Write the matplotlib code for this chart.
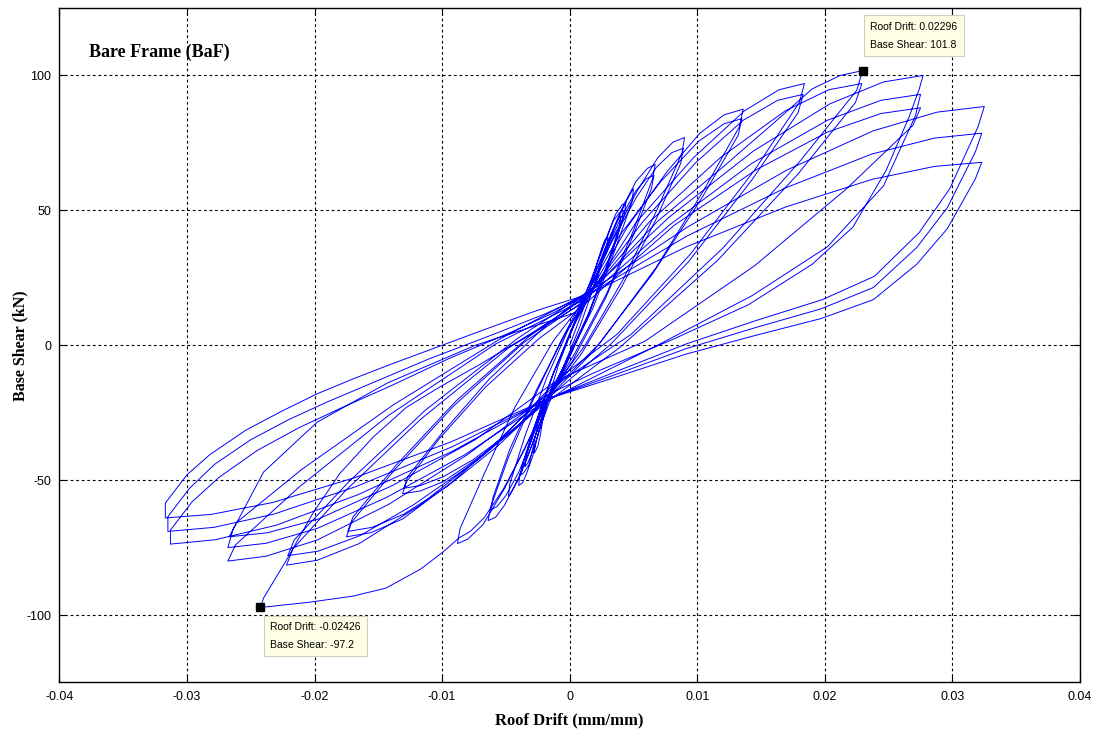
import numpy as np
import matplotlib
matplotlib.use("Agg")
import matplotlib.pyplot as plt

plt.rcParams['axes.unicode_minus'] = False

# Hysteresis trace, read off the picture cycle by cycle
# (roof drift in mm/mm, base shear in kN)
c01_drift = [0.0, 0.0015, 0.0019, 0.0023, 0.0026, 0.0028, 0.0030,
             0.0029, 0.0020, 0.0008, -0.0006, -0.0018,
             -0.0021, -0.0023, -0.0025, -0.0027, -0.0028,
             -0.0027, -0.0019, -0.0009, 0.0004, 0.0015]
c01_shear = [0, 19, 26.6, 32.9, 37.3, 39.4, 40,
             36.4, 23.2, 7, -9.2, -20,
             -27.2, -33.2, -37.4, -39.4, -40,
             -36.5, -23.5, -7.5, 8.4, 19]

c02_drift = [0.0022, 0.0030, 0.0036, 0.0041, 0.0044,
             0.0043, 0.0032, 0.0016, -0.0001, -0.0012,
             -0.0024, -0.0029, -0.0034, -0.0037, -0.0040,
             -0.0039, -0.0029, -0.0015, 0.0000, 0.0010]
c02_shear = [31.2, 41.4, 48.6, 52, 53,
             48.6, 32.6, 12.9, -5, -16,
             -31.5, -41.1, -47.8, -51, -52,
             -47.7, -32.1, -13, 4.5, 16]

c03_drift = [0.0020, 0.0029, 0.0034, 0.0039, 0.0042,
             0.0041, 0.0030, 0.0015, -0.0004, -0.0022,
             -0.0026, -0.0029, -0.0032, -0.0036, -0.0038,
             -0.0037, -0.0027, -0.0013, 0.0004, 0.0020]
c03_shear = [28.5, 39.5, 46, 49.1, 50,
             45.8, 30.4, 11.5, -8.5, -23,
             -31.5, -38.5, -44.4, -47.2, -48,
             -44, -29.2, -10.5, 8, 22]

c03b_drift = [0.0026, 0.0032, 0.0036, 0.0039, 0.0040,
              0.0039, 0.0029, 0.0014, -0.0003, -0.0016,
              -0.0021, -0.0026, -0.0030, -0.0033, -0.0035,
              -0.0034, -0.0025, -0.0012, 0.0002, 0.0012]
c03b_shear = [32, 39.5, 44.5, 47.3, 48,
              44, 29.5, 11, -6, -19,
              -27.5, -35, -40.5, -43.8, -45,
              -41, -27, -9.5, 6, 17]

c04_drift = [0.0028, 0.0041, 0.0052, 0.0061, 0.0067,
             0.0065, 0.0050, 0.0029, 0.0004, -0.0015,
             -0.0028, -0.0040, -0.0051, -0.0058, -0.0064,
             -0.0062, -0.0048, -0.0028, -0.0007, 0.0008]
c04_shear = [36.3, 50.7, 60.8, 65.6, 67,
             61.8, 42.6, 19.2, -3, -18,
             -35, -49, -59.2, -63.7, -65,
             -60, -41.5, -19.5, 1.5, 15]

c05_drift = [0.0026, 0.0041, 0.0052, 0.0060, 0.0066,
             0.0064, 0.0049, 0.0028, 0.0002, -0.0020,
             -0.0030, -0.0040, -0.0050, -0.0057, -0.0062,
             -0.0060, -0.0047, -0.0026, -0.0002, 0.0018]
c05_shear = [33, 48, 57.3, 61.7, 63,
             58, 39.8, 17.4, -6, -22,
             -35.5, -47.1, -55.7, -59.8, -61,
             -56.2, -38.6, -16.5, 5.5, 21]

c05b_drift = [0.0028, 0.0038, 0.0045, 0.0049, 0.0050,
              0.0049, 0.0036, 0.0018, -0.0002, -0.0017,
              -0.0025, -0.0033, -0.0040, -0.0046, -0.0048,
              -0.0047, -0.0035, -0.0018, -0.0001, 0.0013]
c05b_shear = [36, 47, 54, 57.3, 58,
              53.5, 36, 13.5, -5.5, -19,
              -31, -41.5, -49.5, -54.8, -56,
              -51.5, -33.5, -12, 6, 18]

c06_drift = [0.0034, 0.0053, 0.0069, 0.0081, 0.0090,
             0.0088, 0.0068, 0.0042, 0.0012, -0.0010,
             -0.0032, -0.0051, -0.0068, -0.0080, -0.0088,
             -0.0086, -0.0067, -0.0043, -0.0013, 0.0012]
c06_shear = [39.9, 57.3, 69.5, 75.3, 77,
             71.2, 49.8, 24.5, 0, -14,
             -35, -53, -66.5, -71.9, -73.5,
             -68, -47.6, -23, 1.5, 17]

# cycle with the big negative pulse down to -97.2 kN
c07_drift = [0.0032, 0.0052, 0.0068, 0.0080, 0.0089,
             0.0087, 0.0068, 0.0041, 0.0009, -0.0018,
             -0.0035, -0.0052, -0.0067, -0.0078, -0.0087,
             -0.0099, -0.0117, -0.0144, -0.0170, -0.0205, -0.02426,
             -0.0240, -0.0222, -0.0201, -0.0180, -0.0154, -0.0128, -0.0102,
             -0.0070, -0.0035, -0.0005, 0.0015]
c07_shear = [37.5, 54.6, 66, 71.4, 73,
             67.4, 47, 21.9, -3.3, -20,
             -38.2, -53.3, -63.9, -69, -71.5,
             -76.5, -83, -90, -93, -95.3, -97.2,
             -93.7, -79.6, -62, -47.4, -34, -23, -15.5,
             -7, 3, 12, 19]

c08_drift = [0.0045, 0.0076, 0.0102, 0.0121, 0.0136,
             0.0133, 0.0105, 0.0068, 0.0024, -0.0014,
             -0.0044, -0.0074, -0.0099, -0.0117, -0.0131,
             -0.0128, -0.0102, -0.0066, -0.0024, 0.0006]
c08_shear = [43.7, 64.2, 78.6, 85.4, 87.5,
             81, 57.4, 29, 1, -17,
             -31.5, -42.5, -50.5, -54, -55,
             -50.6, -34.5, -15.5, 2.5, 13]

c09_drift = [0.0038, 0.0071, 0.0101, 0.0121, 0.0135,
             0.0132, 0.0104, 0.0065, 0.0018, -0.0022,
             -0.0049, -0.0076, -0.0099, -0.0117, -0.0130,
             -0.0127, -0.0100, -0.0063, -0.0018, 0.0020]
c09_shear = [40, 60.5, 75.6, 82.1, 84,
             77.8, 54.9, 26.5, -2.5, -22,
             -33, -42.5, -48.7, -52, -53,
             -48.7, -32.5, -12.5, 7.5, 22]

c10_drift = [0.0052, 0.0097, 0.0137, 0.0164, 0.0184,
             0.0180, 0.0145, 0.0095, 0.0037, -0.0008,
             -0.0050, -0.0093, -0.0131, -0.0156, -0.0175,
             -0.0171, -0.0137, -0.0091, -0.0036, 0.0010]
c10_shear = [45.5, 69.5, 86.9, 94.7, 97,
             90, 65, 34, 4, -12,
             -33, -51, -64.4, -69.5, -71,
             -65.6, -46, -22.5, 1, 16]

c11_drift = [0.0057, 0.0099, 0.0136, 0.0163, 0.0183,
             0.0179, 0.0143, 0.0093, 0.0032, -0.0018,
             -0.0057, -0.0096, -0.0130, -0.0155, -0.0174,
             -0.0170, -0.0136, -0.0089, -0.0032, 0.0015]
c11_shear = [45.6, 67.8, 83.4, 90.8, 93,
             86.2, 61.4, 30.9, 0.3, -20,
             -37.6, -52.3, -62.6, -67.5, -69,
             -63.7, -44.4, -20.6, 3.2, 19]

# cycle reaching the positive maximum 101.8 kN
c12_drift = [0.0069, 0.0120, 0.0159, 0.0190, 0.0212, 0.02296,
             0.0225, 0.0181, 0.0120, 0.0048, -0.0012,
             -0.0065, -0.0118, -0.0165, -0.0198, -0.0222,
             -0.0217, -0.0176, -0.0117, -0.0048, 0.0008]
c12_shear = [46, 66, 82, 95, 100, 101.8,
             94.5, 68.5, 36, 4, -15,
             -39.5, -59.5, -73.5, -79.7, -81.5,
             -75.5, -54, -27.5, -1, 15]

c13_drift = [0.0062, 0.0118, 0.0169, 0.0203, 0.0229,
             0.0224, 0.0179, 0.0116, 0.0040, -0.0023,
             -0.0072, -0.0122, -0.0164, -0.0197, -0.0221,
             -0.0216, -0.0173, -0.0113, -0.0041, 0.0018]
c13_shear = [45.5, 69.5, 86.9, 94.7, 97,
             90, 63.5, 31.5, -0.5, -23,
             -42.5, -59, -70.5, -76.3, -78,
             -72.2, -50.5, -24, 2.5, 21]

c14_drift = [0.0078, 0.0144, 0.0204, 0.0246, 0.0277,
             0.0274, 0.0266, 0.0248, 0.0222, 0.0190, 0.0140, 0.0080, 0.0020, -0.0016,
             -0.0080, -0.0142, -0.0198, -0.0238, -0.0268,
             -0.0262, -0.0212, -0.0142, -0.0058, 0.0012]
c14_shear = [47.5, 72, 89.5, 97.6, 100,
             95, 84.6, 64.8, 43.8, 30, 15, 2, -10, -18,
             -40.5, -59, -72.2, -78.2, -80,
             -74, -52.5, -26, 0.5, 17]

c15_drift = [0.0078, 0.0143, 0.0202, 0.0244, 0.0275,
             0.0271, 0.0246, 0.0202, 0.0143, 0.0070, -0.0020,
             -0.0082, -0.0144, -0.0198, -0.0238, -0.0268,
             -0.0264, -0.0240, -0.0198, -0.0143, -0.0074, 0.0004]
c15_shear = [44.5, 67.5, 83.4, 90.8, 93,
             85.1, 59.1, 36.5, 18.4, 0.3, -21,
             -40.5, -56.5, -67.9, -73.4, -75,
             -68.4, -47, -28.5, -14, 0, 12]

c16_drift = [0.0082, 0.0146, 0.0202, 0.0244, 0.0275,
             0.0269, 0.0217, 0.0145, 0.0059, -0.0010,
             -0.0074, -0.0139, -0.0197, -0.0237, -0.0267,
             -0.0261, -0.0210, -0.0138, -0.0054, 0.0016]
c16_shear = [44.5, 65, 79, 85.9, 88,
             81.5, 58, 29.5, 1.5, -13,
             -35, -52, -64.4, -69.5, -71,
             -65.6, -46, -22, 2.5, 20]

c17_drift = [0.0093, 0.0170, 0.0238, 0.0288, 0.0325,
             0.0320, 0.0298, 0.0274, 0.0239, 0.0198, 0.0147, 0.0092, 0.0035, -0.0018,
             -0.0093, -0.0168, -0.0233, -0.0281, -0.0317,
             -0.0317, -0.0300, -0.0282, -0.0254, -0.0226, -0.0198, -0.0170,
             -0.0140, -0.0100, -0.0060, -0.0025, 0.0015]
c17_shear = [44, 64.9, 79.5, 86.4, 88.5,
             80.9, 58.1, 41.8, 25.6, 16.9, 9.3, 0.6, -10, -20,
             -35.8, -49, -58.3, -62.7, -64,
             -58.5, -48, -40.5, -31.5, -24.5, -18, -12.5,
             -7, 0, 7, 13, 19]

c18_drift = [0.0092, 0.0169, 0.0237, 0.0286, 0.0323,
             0.0318, 0.0296, 0.0272, 0.0238, 0.0197, 0.0146, 0.0091, 0.0035, -0.0018,
             -0.0092, -0.0167, -0.0232, -0.0279, -0.0315,
             -0.0315, -0.0298, -0.0278, -0.0250, -0.0220, -0.0190, -0.0155,
             -0.0110, -0.0060, -0.0020, 0.0015]
c18_shear = [40.5, 58.3, 70.9, 76.8, 78.6,
             71.7, 51, 36.2, 21.4, 13.5, 6.6, -1.3, -11, -20,
             -37.6, -52.3, -62.6, -67.5, -69,
             -63.5, -53, -44, -35, -27.5, -21, -14,
             -5, 4, 11.5, 19]

c19_drift = [0.0092, 0.0169, 0.0237, 0.0286, 0.0323,
             0.0318, 0.0296, 0.0272, 0.0238, 0.0197, 0.0146, 0.0091, 0.0035, -0.0018,
             -0.0092, -0.0166, -0.0230, -0.0278, -0.0313,
             -0.0313, -0.0296, -0.0275, -0.0245, -0.0212, -0.0178, -0.0140,
             -0.0095, -0.0050, -0.0015, 0.0015]
c19_shear = [36.6, 51.2, 61.5, 66.3, 67.8,
             61.7, 43.2, 30, 16.9, 9.9, 3.7, -3.3, -12, -20,
             -39.3, -55.4, -66.7, -72.1, -73.7,
             -68.5, -58, -49, -39, -30.5, -23, -15,
             -5, 4, 11.5, 19]

# data tips shown on the chart
tip_max = (0.02296, 101.8)
tip_min = (-0.02426, -97.2)

drift_cycles = [c01_drift, c02_drift, c03_drift, c03b_drift, c04_drift, c05_drift,
                c05b_drift, c06_drift, c07_drift, c08_drift, c09_drift, c10_drift,
                c11_drift, c12_drift, c13_drift, c14_drift, c15_drift, c16_drift,
                c17_drift, c18_drift, c19_drift]
shear_cycles = [c01_shear, c02_shear, c03_shear, c03b_shear, c04_shear, c05_shear,
                c05b_shear, c06_shear, c07_shear, c08_shear, c09_shear, c10_shear,
                c11_shear, c12_shear, c13_shear, c14_shear, c15_shear, c16_shear,
                c17_shear, c18_shear, c19_shear]

drift = np.concatenate(drift_cycles)
shear = np.concatenate(shear_cycles)

fig = plt.figure(figsize=(10.99, 7.36), dpi=100)
ax = fig.add_axes([0.0541, 0.0727, 0.9286, 0.9164])

ax.plot(drift, shear, color='#0000ff', lw=0.7)

ax.set_xlim(-0.04, 0.04)
ax.set_ylim(-125, 125)
ax.set_xticks([-0.04, -0.03, -0.02, -0.01, 0, 0.01, 0.02, 0.03, 0.04])
ax.set_xticklabels(['-0.04', '-0.03', '-0.02', '-0.01', '0', '0.01', '0.02', '0.03', '0.04'])
ax.set_yticks([-100, -50, 0, 50, 100])
ax.grid(True, color='black', linestyle=(0, (2.5, 2.5)), linewidth=0.8)
ax.tick_params(direction='in', top=True, right=True, length=5,
               labelsize=9, pad=6)
for lab in ax.get_xticklabels() + ax.get_yticklabels():
    lab.set_fontfamily('Liberation Sans')
for sp in ax.spines.values():
    sp.set_linewidth(1.0)

ax.set_xlabel('Roof Drift (mm/mm)', fontfamily='Liberation Serif',
              fontweight='bold', fontsize=12, labelpad=7)
ax.set_ylabel('Base Shear (kN)', fontfamily='Liberation Serif',
              fontweight='bold', fontsize=11.5, ha='center', va='center')
ax.yaxis.set_label_coords(-0.0387, 0.5)
ax.text(-0.0377, 108.5, 'Bare Frame (BaF)', fontfamily='Liberation Serif',
        fontweight='bold', fontsize=13, va='center', ha='left')

# data tip markers and boxes
for (tx, ty), (bx, by) in [(tip_max, (0.02355, 120.0)), (tip_min, (-0.02350, -102.5))]:
    ax.plot([tx], [ty], marker='s', color='black', ms=6, zorder=5)
    ax.text(bx, by, 'Roof Drift: %s\nBase Shear: %s' % (tx, ty),
            fontfamily='Liberation Sans', fontsize=7.5, va='top', ha='left',
            linespacing=2.0, zorder=6,
            bbox=dict(boxstyle='square,pad=0.6', facecolor='#ffffe6',
                      edgecolor='#d0d0c0', linewidth=0.8))

fig.savefig('out.png', dpi=100, facecolor='white')
